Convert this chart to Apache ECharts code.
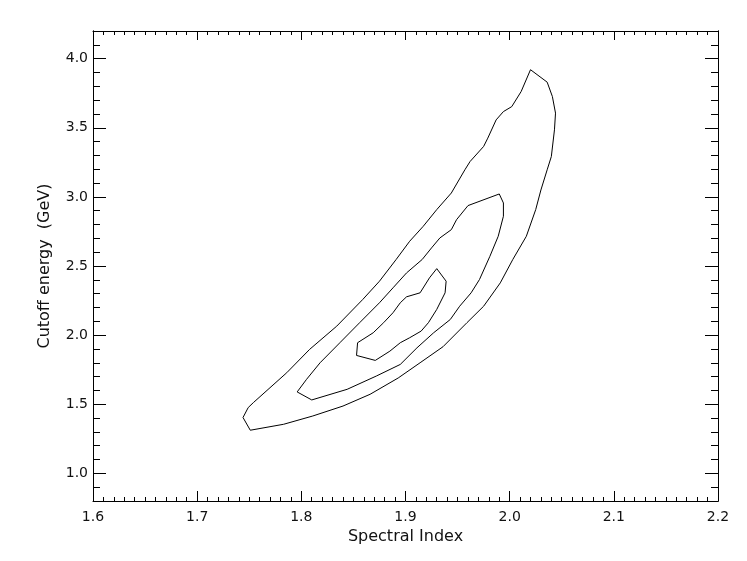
<!DOCTYPE html>
<html>
<head>
<meta charset="utf-8">
<script src="https://cdn.jsdelivr.net/npm/echarts@6/dist/echarts.min.js"></script>
<style>
  html, body { margin: 0; padding: 0; background: #fff; }
  #chart { width: 747px; height: 561px; }
</style>
</head>
<body>
<div id="chart"></div>
<script>
// confidence contours, [spectral index, cutoff energy GeV]
const outerContour = [
  [2.020, 3.92], [2.036, 3.83], [2.041, 3.726], [2.044, 3.606], [2.043, 3.485],
  [2.040, 3.292], [2.036, 3.196], [2.030, 3.05], [2.025, 2.908], [2.016, 2.715],
  [2.003, 2.547], [1.991, 2.378], [1.975, 2.209], [1.959, 2.09], [1.936, 1.916],
  [1.914, 1.80], [1.893, 1.69], [1.866, 1.572], [1.840, 1.487], [1.811, 1.415],
  [1.783, 1.355], [1.751, 1.312], [1.744, 1.404], [1.749, 1.476], [1.754, 1.512],
  [1.786, 1.728], [1.808, 1.897], [1.834, 2.065], [1.859, 2.258], [1.875, 2.39],
  [1.891, 2.547], [1.904, 2.679], [1.917, 2.787], [1.930, 2.908], [1.944, 3.028],
  [1.957, 3.196], [1.962, 3.256], [1.975, 3.365], [1.979, 3.425], [1.987, 3.557],
  [1.994, 3.617], [2.002, 3.653], [2.011, 3.762], [2.020, 3.92]
]
const middleContour = [
  [1.990, 3.021], [1.994, 2.956], [1.994, 2.86], [1.989, 2.715], [1.981, 2.57],
  [1.971, 2.402], [1.963, 2.306], [1.952, 2.209], [1.943, 2.113], [1.927, 2.017],
  [1.911, 1.908], [1.895, 1.788], [1.872, 1.704], [1.844, 1.608], [1.810, 1.531],
  [1.796, 1.589], [1.805, 1.68], [1.818, 1.80], [1.837, 1.945], [1.856, 2.09],
  [1.875, 2.234], [1.888, 2.342], [1.901, 2.45], [1.916, 2.547], [1.925, 2.631],
  [1.933, 2.703], [1.944, 2.763], [1.949, 2.835], [1.960, 2.937], [1.990, 3.021]
]
const innerContour = [
  [1.930, 2.481], [1.939, 2.39], [1.938, 2.306], [1.930, 2.186], [1.922, 2.09],
  [1.915, 2.029], [1.904, 1.981], [1.895, 1.945], [1.885, 1.884], [1.871, 1.817],
  [1.853, 1.853], [1.854, 1.945], [1.869, 2.017], [1.879, 2.09], [1.888, 2.162],
  [1.895, 2.234], [1.901, 2.277], [1.914, 2.306], [1.923, 2.414], [1.930, 2.481]
]

// axes
const xMin = 1.6
const xMax = 2.2
const yMin = 0.8
const yMax = 4.2
const yMajorTicks = [1.0, 1.5, 2.0, 2.5, 3.0, 3.5, 4.0]

const font = 'DejaVu Sans'
const ink = '#111'

const chart = echarts.init(document.getElementById('chart'))

const lineStyle = { color: '#000', width: 1 }

// x axis (bottom with labels, top mirrored)
const makeX = (position, withLabels) => ({
  type: 'value',
  position,
  min: xMin,
  max: xMax,
  interval: 0.1,
  axisLine: { show: true, onZero: false, lineStyle },
  axisTick: { show: true, inside: true, length: position === 'top' ? 9 : 10, lineStyle },
  minorTick: { show: true, splitNumber: 10, length: 4, lineStyle },
  splitLine: { show: false },
  axisLabel: {
    show: withLabels,
    margin: 9,
    fontFamily: font,
    fontSize: 14,
    color: ink,
    formatter: v => v.toFixed(1)
  },
  name: withLabels ? 'Spectral Index' : '',
  nameLocation: 'middle',
  nameGap: 27,
  nameTextStyle: { fontFamily: font, fontSize: 16, color: ink }
})

// y minor ticks (every 0.1) and major ticks/labels (every 0.5)
const makeYMinor = position => ({
  type: 'value',
  position,
  min: yMin,
  max: yMax,
  interval: 0.1,
  axisLine: { show: true, onZero: false, lineStyle },
  axisTick: { show: true, inside: true, length: 7, lineStyle },
  axisLabel: { show: false },
  splitLine: { show: false }
})

const makeYMajor = (position, withLabels) => ({
  type: 'value',
  position,
  min: yMin,
  max: yMax,
  axisLine: { show: true, onZero: false, lineStyle },
  axisTick: { show: true, inside: true, length: 13, customValues: yMajorTicks, lineStyle },
  axisLabel: {
    show: withLabels,
    customValues: yMajorTicks,
    margin: 5,
    fontFamily: font,
    fontSize: 14,
    color: ink,
    formatter: v => v.toFixed(1)
  },
  splitLine: { show: false },
  name: withLabels ? 'Cutoff energy  (GeV)' : '',
  nameLocation: 'middle',
  nameGap: 40,
  nameRotate: 90,
  nameTextStyle: { fontFamily: font, fontSize: 16, color: ink }
})

const contour = data => ({
  type: 'line',
  data,
  xAxisIndex: 0,
  yAxisIndex: 0,
  showSymbol: false,
  symbol: 'none',
  smooth: false,
  silent: true,
  lineStyle: { color: '#000', width: 1 }
})

chart.setOption({
  animation: false,
  backgroundColor: '#fff',
  grid: {
    left: 93,
    right: 29,
    top: 31,
    bottom: 60,
    containLabel: false,
    outerBoundsMode: 'none'
  },
  xAxis: [makeX('bottom', true), makeX('top', false)],
  yAxis: [
    makeYMinor('left'),
    makeYMajor('left', true),
    makeYMinor('right'),
    makeYMajor('right', false)
  ],
  series: [contour(outerContour), contour(middleContour), contour(innerContour)]
})

window.addEventListener('resize', () => chart.resize())
</script>
</body>
</html>
